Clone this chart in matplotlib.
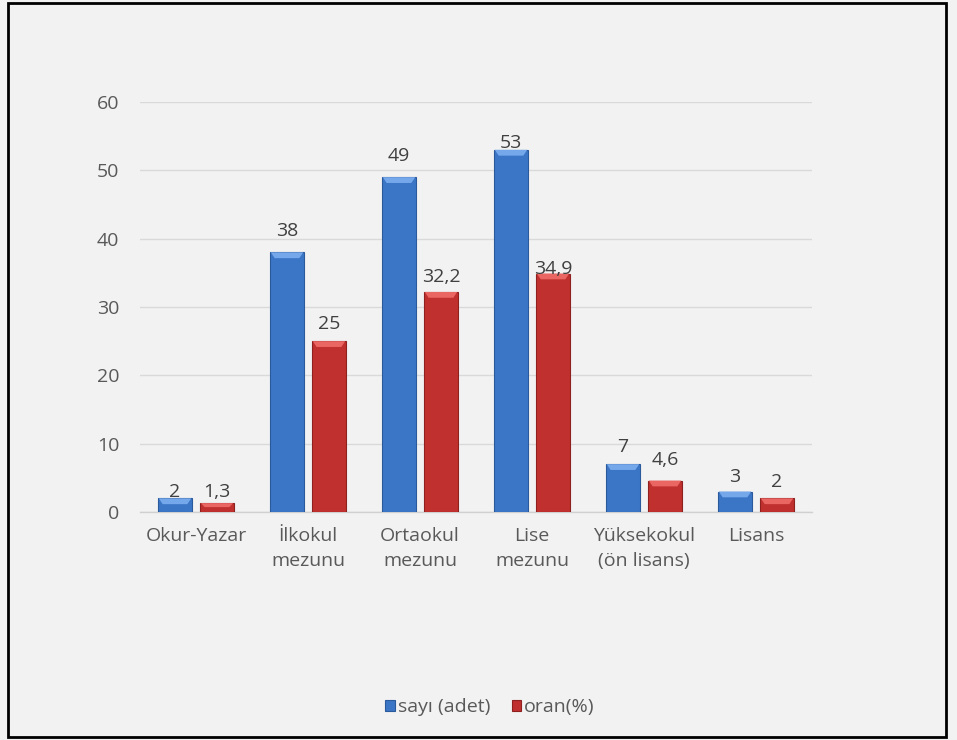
import matplotlib
matplotlib.use("Agg")
import matplotlib.pyplot as plt
from matplotlib.patches import Rectangle, Polygon
import numpy as np

categories = ["Okur-Yazar", "İlkokul\nmezunu", "Ortaokul\nmezunu", "Lise\nmezunu", "Yüksekokul\n(ön lisans)", "Lisans"]
sayi = [2, 38, 49, 53, 7, 3]
oran = [1.3, 25, 32.2, 34.9, 4.6, 2]
sayi_labels = ["2", "38", "49", "53", "7", "3"]
oran_labels = ["1,3", "25", "32,2", "34,9", "4,6", "2"]
series_names = ["sayı (adet)", "oran(%)"]
yticks = [0, 10, 20, 30, 40, 50, 60]

# label gaps above bar tops (points) - styling only
sayi_gap = [1, 12, 12, 1.5, 9, 6.5]
oran_gap = [4.5, 9, 7.5, 0, 11, 8]

plt.rcParams['font.family'] = ['Open Sans', 'DejaVu Sans']

bg = '#f2f2f2'
fig = plt.figure(figsize=(9.57, 7.4), dpi=100, facecolor=bg)
ax = fig.add_axes([140/957, 228/740, 672/957, 410/740])
ax.set_facecolor(bg)

x = np.arange(len(categories))
w = 0.31
gap = 0.065
blue = '#3b76c6'
blue_edge = '#2a5a9c'
red = '#c0302e'
red_edge = '#8e2020'

b1 = ax.bar(x - (w + gap) / 2, sayi, w, color=blue, edgecolor=blue_edge, linewidth=0.8, zorder=3)
b2 = ax.bar(x + (w + gap) / 2, oran, w, color=red, edgecolor=red_edge, linewidth=0.8, zorder=3)

# bevel highlight on top of each bar
for bars, hl in ((b1, '#75a8ea'), (b2, '#ea6663')):
    for r in bars:
        h = r.get_height()
        bh = min(0.85, h * 0.45)
        x0 = r.get_x() + 0.01
        x1 = r.get_x() + r.get_width() - 0.01
        ins = 0.035
        ax.add_patch(Polygon([(x0, h), (x1, h), (x1 - ins, h - bh), (x0 + ins, h - bh)],
                             closed=True, color=hl, zorder=4, linewidth=0))

lab_color = '#404040'
for r, t, g in zip(b1, sayi_labels, sayi_gap):
    ax.annotate(t, (r.get_x() + r.get_width() / 2, r.get_height()), xytext=(0, g),
                textcoords='offset points', ha='center', va='baseline',
                fontsize=14, color=lab_color, zorder=5)
for r, t, g in zip(b2, oran_labels, oran_gap):
    ax.annotate(t, (r.get_x() + r.get_width() / 2, r.get_height()), xytext=(0, g),
                textcoords='offset points', ha='center', va='baseline',
                fontsize=14, color=lab_color, zorder=5)

ax.set_xlim(-0.5, len(categories) - 0.5)
ax.set_ylim(0, 60)
ax.set_yticks(yticks)
ax.set_yticklabels([str(v) for v in yticks], fontsize=14, color='#595959')
ax.set_xticks(x)
ax.set_xticklabels(categories, fontsize=14, color='#595959', linespacing=1.5)
ax.tick_params(axis='both', length=0)
ax.tick_params(axis='y', pad=15)
ax.tick_params(axis='x', pad=11)
ax.yaxis.grid(True, color='#d9d9d9', linewidth=1.0, zorder=0)
ax.set_axisbelow(True)
for s in ['top', 'right', 'left']:
    ax.spines[s].set_visible(False)
ax.spines['bottom'].set_color('#d0d0d0')
ax.spines['bottom'].set_linewidth(1.0)

leg = fig.legend([b1, b2], series_names, loc='center', bbox_to_anchor=(490/957, 1 - 707/740),
                 ncol=2, frameon=False, fontsize=14, handlelength=0.5, handleheight=0.5,
                 handletextpad=0.15, columnspacing=1.1, labelcolor='#595959')

# outer border
fig.add_artist(Rectangle((8/957, 3/740), (946 - 8)/957, (737 - 3)/740, transform=fig.transFigure,
                         fill=False, edgecolor='black', linewidth=2))

fig.savefig("out.png", dpi=100, facecolor=bg)
